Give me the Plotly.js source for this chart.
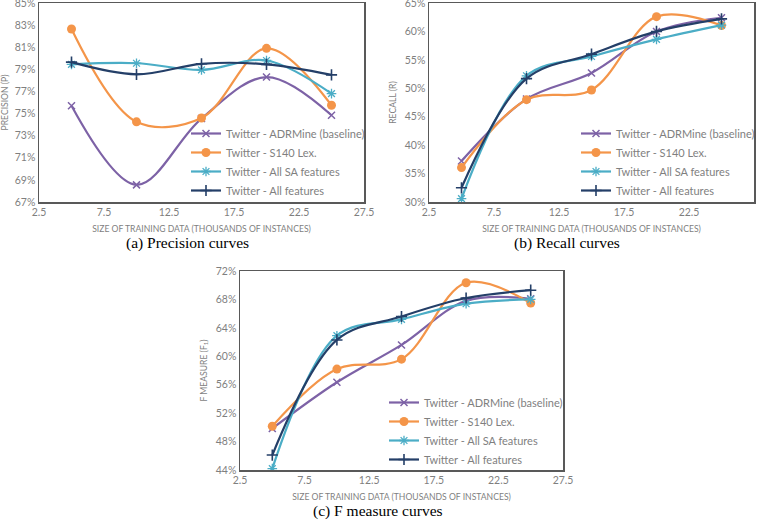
<!DOCTYPE html>
<html><head><meta charset="utf-8">
<script src="https://cdn.plot.ly/plotly-3.0.1.min.js"></script>
<style>html,body{margin:0;padding:0;background:#fff;overflow:hidden}#c{width:763px;height:532px;margin-top:-12px}</style>
</head><body><div id="c"></div>
<script>
const xs = [5, 10, 15, 20, 25];
const seriesNames = ["Twitter - ADRMine (baseline)", "Twitter - S140 Lex.", "Twitter - All SA features", "Twitter - All features"];

const precAdr = [75.7, 68.55, 74.55, 78.3, 74.85];
const precS140 = [82.65, 74.25, 74.6, 80.9, 75.75];
const precAllSA = [79.45, 79.55, 78.95, 79.8, 76.8];
const precAll = [79.65, 78.55, 79.5, 79.45, 78.5];

const recAdr = [37.2, 48.1, 52.7, 60.0, 62.4];
const recS140 = [36.05, 48.0, 49.7, 62.6, 61.05];
const recAllSA = [30.6, 52.2, 55.6, 58.6, 61.1];
const recAll = [32.5, 51.7, 56.0, 60.0, 62.2];

const fAdr = [49.85, 56.35, 61.6, 67.8, 68.1];
const fS140 = [50.15, 58.2, 59.6, 70.35, 67.5];
const fAllSA = [44.2, 62.9, 65.2, 67.4, 68.0];
const fAll = [46.1, 62.3, 65.6, 68.2, 69.3];

const xTickVals = [2.5, 7.5, 12.5, 17.5, 22.5, 27.5];
const xTitle = "SIZE OF TRAINING DATA (THOUSANDS OF INSTANCES)";
const yTitles = ["PRECISION (P)", "RECALL (R)", "F MEASURE (F<sub>1</sub>)"];
const captions = ["(a) Precision curves", "(b) Recall curves", "(c) F measure curves"];

const colors = ["#7d62a6", "#f49549", "#4badc6", "#243f68"];
const markers = [
  {symbol: "x-thin", size: 7, line: {width: 1.5}},
  {symbol: "circle", size: 9},
  {symbol: "asterisk", size: 8, line: {width: 1.3}},
  {symbol: "cross-thin", size: 8, line: {width: 1.6}}
];

const panels = [
  {data: [precAdr, precS140, precAllSA, precAll], xa: "x", ya: "y", lg: "legend"},
  {data: [recAdr, recS140, recAllSA, recAll], xa: "x2", ya: "y2", lg: "legend2"},
  {data: [fAdr, fS140, fAllSA, fAll], xa: "x3", ya: "y3", lg: "legend3"}
];

const traces = [];
panels.forEach(p => {
  p.data.forEach((ys, i) => {
    const m = Object.assign({color: colors[i]}, markers[i]);
    if (m.line) m.line = Object.assign({color: colors[i]}, m.line);
    traces.push({
      x: xs, y: ys, type: "scatter", mode: "lines+markers",
      name: seriesNames[i], xaxis: p.xa, yaxis: p.ya, legend: p.lg,
      line: {color: colors[i], width: 2.2, shape: "spline", smoothing: 1},
      marker: m
    });
  });
});

const tickFont = {family: "Lato, 'Open Sans', sans-serif", size: 10.5, color: "#7f7f7f"};
const titleFont = {family: "Lato, 'Open Sans', sans-serif", size: 8.6, color: "#7f7f7f"};

function xax(dom, anchor) {
  return {domain: dom, anchor: anchor, range: [2.5, 27.5], tickvals: xTickVals, ticktext: xTickVals.map(v => v.toFixed(1)),
    showgrid: false, zeroline: false, showline: true, mirror: true, linecolor: "#595959", linewidth: 1.5,
    ticks: "", tickfont: tickFont,
    title: {text: xTitle, font: titleFont, standoff: 9}, fixedrange: true};
}
function yax(dom, anchor, rng, dt, title) {
  return {domain: dom, anchor: anchor, range: rng, dtick: dt, tick0: rng[0], ticksuffix: "%",
    showgrid: false, zeroline: false, showline: true, mirror: true, linecolor: "#595959", linewidth: 1.5,
    ticks: "", tickfont: tickFont,
    title: {text: title, font: titleFont, standoff: 7}, fixedrange: true};
}
const legFont = {family: "Lato, 'Open Sans', sans-serif", size: 11, color: "#7f7f7f"};

// figure is 532 tall and shifted up by 12px so that the window shows rows 12..532
const H = 532, OFF = 12;
const py = v => 1 - (v + OFF) / H;
function leg(xpx, ypx) {
  return {x: xpx / 763, y: py(ypx), xanchor: "left", yanchor: "top", font: legFont,
    bgcolor: "rgba(0,0,0,0)", itemwidth: 30, traceorder: "normal"};
}

const layout = {
  width: 763, height: H, margin: {l: 0, r: 0, t: 0, b: 0},
  paper_bgcolor: "#fff", plot_bgcolor: "#fff", showlegend: true,
  xaxis: xax([39/763, 364/763], "y"),
  yaxis: yax([py(202), py(3)], "x", [67, 85], 2, yTitles[0]),
  xaxis2: xax([429/763, 754/763], "y2"),
  yaxis2: yax([py(202), py(3)], "x2", [30, 65], 5, yTitles[1]),
  xaxis3: xax([240/763, 563/763], "y3"),
  yaxis3: yax([py(470), py(271)], "x3", [44, 72], 4, yTitles[2]),
  legend: leg(186, 119),
  legend2: leg(576, 119),
  legend3: leg(384, 388),
  annotations: [
    {text: captions[0], x: 187/763, y: py(243)},
    {text: captions[1], x: 567/763, y: py(243)},
    {text: captions[2], x: 378/763, y: py(511)}
  ].map(a => Object.assign({xref: "paper", yref: "paper", showarrow: false, xanchor: "center", yanchor: "middle",
    font: {family: "'Liberation Serif', 'DejaVu Serif', serif", size: 15.5, color: "#000"}}, a))
};

Plotly.newPlot("c", traces, layout, {staticPlot: true, displayModeBar: false});
</script></body></html>
